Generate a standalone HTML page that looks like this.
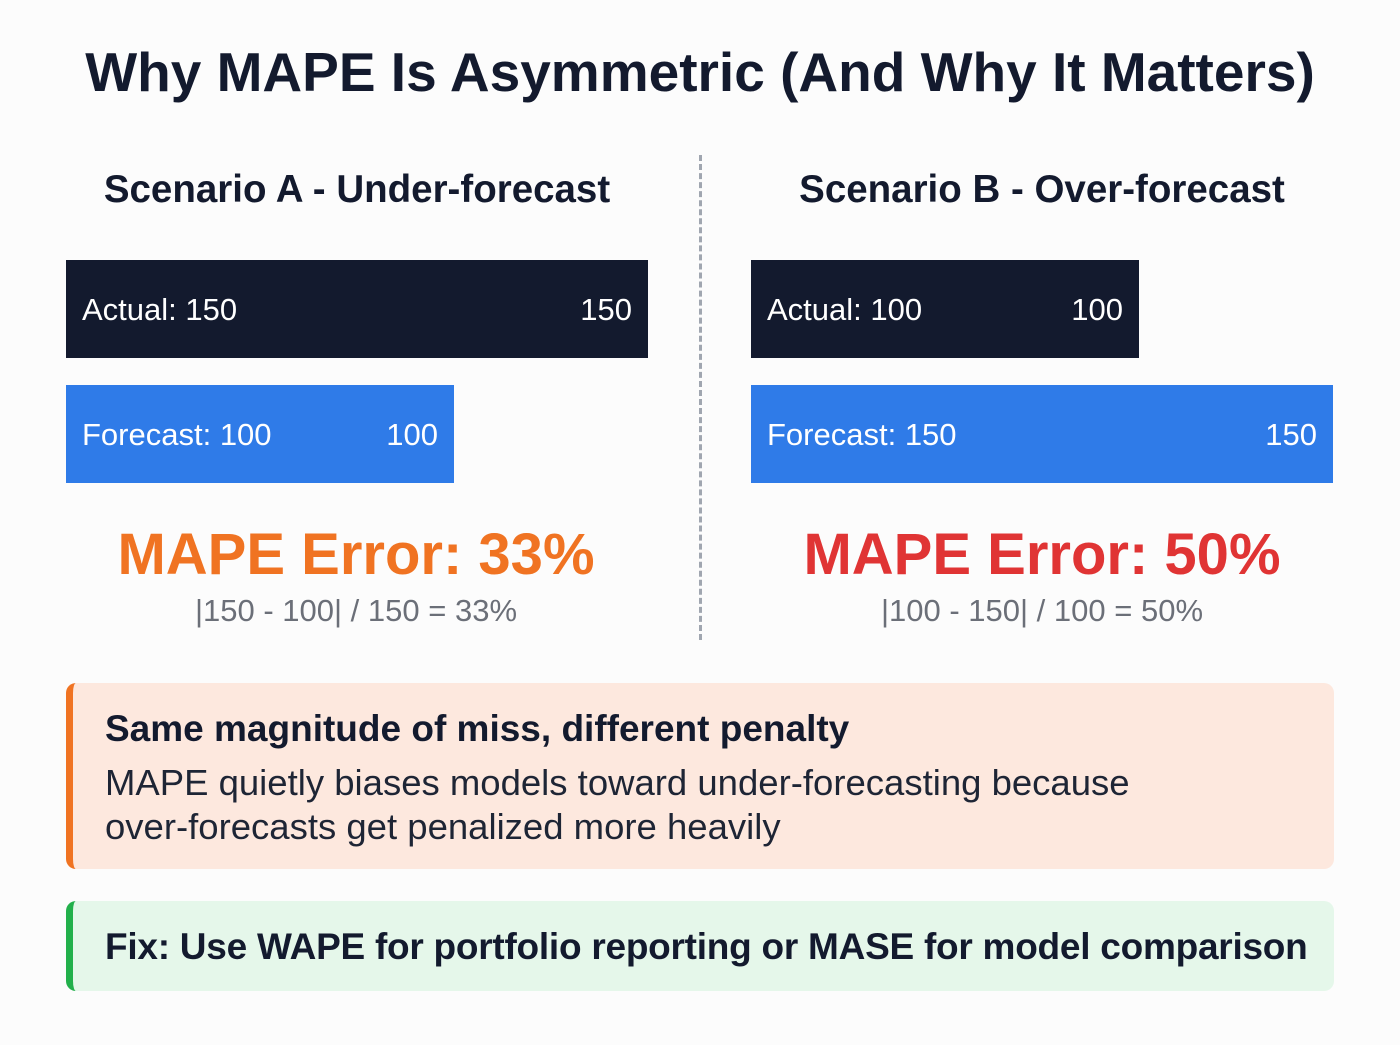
<!DOCTYPE html>
<html><head><meta charset="utf-8">
<style>
body{margin:0;width:1400px;height:1045px;background:#fcfcfc;font-family:"Liberation Sans",sans-serif;position:relative;overflow:hidden;color:#131a2e}
.abs{position:absolute}
.t{white-space:nowrap}
</style></head><body>
<div class="abs t" style="left:0;width:1400px;top:40px;text-align:center;font-size:55px;font-weight:bold;color:#131a2e">Why MAPE Is Asymmetric (And Why It Matters)</div>
<div class="abs t" style="left:66px;width:582px;top:168px;text-align:center;font-size:38.5px;font-weight:bold">Scenario A - Under-forecast</div>
<div class="abs t" style="left:751px;width:582px;top:168px;text-align:center;font-size:38.5px;font-weight:bold">Scenario B - Over-forecast</div>
<div class="abs" style="left:699px;top:155px;height:485px;border-left:3px dashed #a0a6b0"></div>
<div id="bars"></div>
<div class="abs t" style="left:6px;width:700px;top:521px;text-align:center;font-size:58px;font-weight:bold;color:#f07322">MAPE Error: 33%</div>
<div class="abs t" style="left:6px;width:700px;top:593px;text-align:center;font-size:31px;color:#6b6f78">|150 - 100| / 150 = 33%</div>
<div class="abs t" style="left:692px;width:700px;top:521px;text-align:center;font-size:58px;font-weight:bold;color:#e03434">MAPE Error: 50%</div>
<div class="abs t" style="left:692px;width:700px;top:593px;text-align:center;font-size:31px;color:#6b6f78">|100 - 150| / 100 = 50%</div>
<div class="abs" style="left:66px;top:683px;width:1261px;height:186px;background:#fde8de;border-left:7px solid #f07322;border-radius:10px">
<div class="abs t" style="left:32px;top:25px;font-size:37px;font-weight:bold">Same magnitude of miss, different penalty</div>
<div class="abs" style="left:32px;top:78px;font-size:36.5px;line-height:44px;color:#1e2535;white-space:nowrap">MAPE quietly biases models toward under-forecasting because<br>over-forecasts get penalized more heavily</div>
</div>
<div class="abs" style="left:66px;top:901px;width:1261px;height:90px;background:#e5f7ea;border-left:7px solid #22b04b;border-radius:10px">
<div class="abs t" style="left:32px;top:25px;font-size:37px;font-weight:bold;letter-spacing:-0.25px">Fix: Use WAPE for portfolio reporting or MASE for model comparison</div>
</div>
<script>
const scenarios=["A","B"];
const actualValues=[150,100];
const forecastValues=[100,150];
const origins=[66,751];
const scale=3.88;
const c=document.getElementById('bars');
function bar(x,y,v,label,color,name){
  const d=document.createElement('div');
  
  
  d.className='abs';
  d.style.cssText=`left:${x}px;top:${y}px;width:${v*scale}px;height:98px;background:${color};color:#fff;font-size:31px`;
  d.innerHTML=`<span style="position:absolute;left:16px;top:32px;white-space:nowrap">${label}: ${v}</span><span style="position:absolute;right:16px;top:32px">${v}</span>`;
  c.appendChild(d);
}
scenarios.forEach((s,i)=>{
  bar(origins[i],260,actualValues[i],'Actual','#131a2e','actual-bar-'+s.toLowerCase());
  bar(origins[i],385,forecastValues[i],'Forecast','#2f7be8','forecast-bar-'+s.toLowerCase());
});
</script>
</body></html>
